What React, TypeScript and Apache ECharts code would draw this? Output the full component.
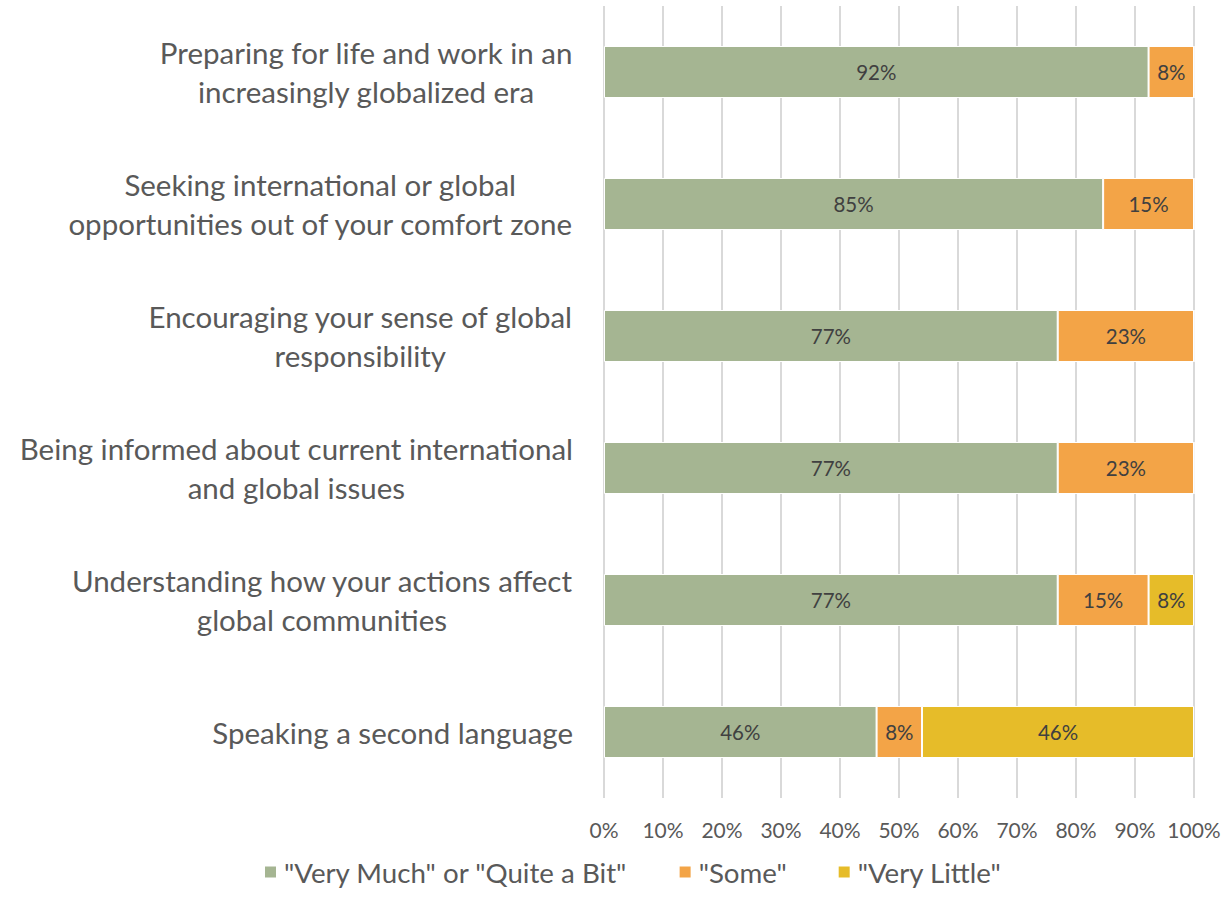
import React, { useEffect, useRef } from "react";
import * as echarts from "echarts";

const categories = [
  "Preparing for life and work in an\nincreasingly globalized era",
  "Seeking international or global\nopportunities out of your comfort zone",
  "Encouraging your sense of global\nresponsibility",
  "Being informed about current international\nand global issues",
  "Understanding how your actions affect\nglobal communities",
  "Speaking a second language",
];
const seriesNames = ['"Very Much" or "Quite a Bit"', '"Some"', '"Very Little"'];
const veryMuch = [92.3, 84.6, 76.9, 76.9, 76.9, 46.2];
const some = [7.7, 15.4, 23.1, 23.1, 15.4, 7.7];
const veryLittle = [0, 0, 0, 0, 7.7, 46.1];
const xTicks = [0, 10, 20, 30, 40, 50, 60, 70, 80, 90, 100];
const colors = ["#A5B592", "#F3A447", "#E6BC29"];

const FONT = "Lato";

export default function App() {
  const ref = useRef<HTMLDivElement>(null);
  useEffect(() => {
    document.body.style.margin = "0";
    if (!ref.current) return;
    const chart = echarts.init(ref.current, null, { renderer: "svg" });
    const data = [veryMuch, some, veryLittle];
    chart.setOption({
      animation: false,
      textStyle: { fontFamily: FONT },
      grid: { left: 604, right: 37, top: 6, bottom: 119, containLabel: false },
      legend: {
        top: 853,
        left: 258,
        itemWidth: 13,
        itemHeight: 13,
        itemGap: 50,
        icon: "rect",
        textStyle: { fontSize: 27.7, color: "#595959", fontFamily: FONT, padding: [0, 0, 0, 2] },
        data: seriesNames,
      },
      xAxis: {
        type: "value",
        min: 0,
        max: xTicks[xTicks.length - 1],
        interval: 10,
        axisLabel: {
          formatter: (v: number) => v + "%",
          fontSize: 21,
          color: "#595959",
          margin: 21,
          fontFamily: FONT,
        },
        axisLine: { show: false },
        axisTick: { show: false },
        splitLine: { show: true, lineStyle: { color: "#D9D9D9", width: 2 } },
      },
      yAxis: {
        type: "category",
        inverse: true,
        data: categories,
        axisLine: { show: false },
        axisTick: { show: false },
        axisLabel: {
          margin: 31,
          align: "right",
          formatter: (v: string) =>
            v
              .split("\n")
              .map((l) => "{c|" + l + "}")
              .join("\n"),
          rich: {
            c: {
              align: "center",
              fontSize: 29.5,
              lineHeight: 39,
              color: "#595959",
              fontFamily: FONT,
            },
          },
        },
      },
      series: seriesNames.map((name, i) => ({
        name,
        type: "bar",
        stack: "total",
        barWidth: 52,
        data: data[i],
        itemStyle: { color: colors[i], borderColor: "#ffffff", borderWidth: 1 },
        label: {
          show: true,
          position: "inside",
          fontSize: 20.5,
          color: "#404040",
          fontFamily: FONT,
          formatter: (p: any) => (p.value > 0 ? Math.round(p.value) + "%" : ""),
        },
      })),
    });
    return () => chart.dispose();
  }, []);
  return <div ref={ref} style={{ width: 1231, height: 917 }} />;
}
